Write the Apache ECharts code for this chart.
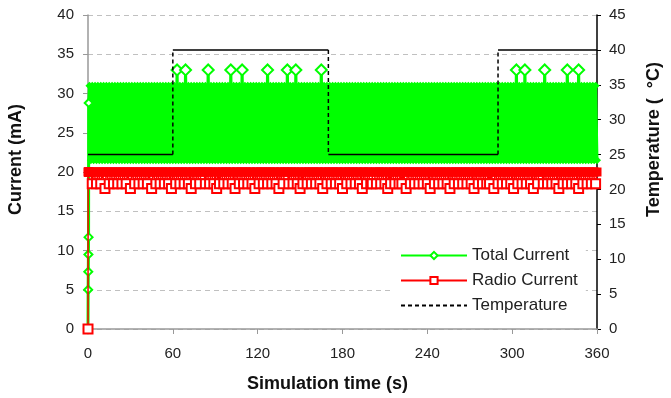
<!DOCTYPE html>
<html>
<head>
<meta charset="utf-8">
<script src="https://cdn.jsdelivr.net/npm/echarts@6/dist/echarts.min.js"></script>
<style>html,body{margin:0;padding:0;background:#fff}#c{width:671px;height:398px}</style>
</head>
<body>
<div id="c"></div>
<script>
// ---- data ----
var sampleStep = 1; // seconds between samples after start-up
// start-up burst at t≈0
var startTimes = [0, 0.1, 0.2, 0.3, 0.4, 0.5];
var startTotal = [0, 5, 7.3, 9.5, 11.7, 28.8];
var startRadio = [0, 20, 20, 20, 20, 20];
// total current (mA), t = 1..360 s
var totalCurrent = [
31,21.5,31,21.5,31,21.5,31,21.5,31,21.5,31,21.5,31,21.5,31,21.5,31,21.5,31,21.5,
31,21.5,31,21.5,31,21.5,31,21.5,31,21.5,31,21.5,31,21.5,31,21.5,31,21.5,31,21.5,
31,21.5,31,21.5,31,21.5,31,21.5,31,21.5,31,21.5,31,21.5,31,21.5,31,21.5,31,21.5,
31,21.5,33,21.5,31,21.5,31,21.5,33,21.5,31,21.5,31,21.5,31,21.5,31,21.5,31,21.5,
31,21.5,31,21.5,33,21.5,31,21.5,31,21.5,31,21.5,31,21.5,31,21.5,31,21.5,31,21.5,
33,21.5,31,21.5,31,21.5,31,21.5,33,21.5,31,21.5,31,21.5,31,21.5,31,21.5,31,21.5,
31,21.5,31,21.5,31,21.5,33,21.5,31,21.5,31,21.5,31,21.5,31,21.5,31,21.5,31,21.5,
33,21.5,31,21.5,31,21.5,33,21.5,31,21.5,31,21.5,31,21.5,31,21.5,31,21.5,31,21.5,
31,21.5,31,21.5,33,21.5,31,21.5,31,21.5,31,21.5,31,21.5,31,21.5,31,21.5,31,21.5,
31,21.5,31,21.5,31,21.5,31,21.5,31,21.5,31,21.5,31,21.5,31,21.5,31,21.5,31,21.5,
31,21.5,31,21.5,31,21.5,31,21.5,31,21.5,31,21.5,31,21.5,31,21.5,31,21.5,31,21.5,
31,21.5,31,21.5,31,21.5,31,21.5,31,21.5,31,21.5,31,21.5,31,21.5,31,21.5,31,21.5,
31,21.5,31,21.5,31,21.5,31,21.5,31,21.5,31,21.5,31,21.5,31,21.5,31,21.5,31,21.5,
31,21.5,31,21.5,31,21.5,31,21.5,31,21.5,31,21.5,31,21.5,31,21.5,31,21.5,31,21.5,
31,21.5,31,21.5,31,21.5,31,21.5,31,21.5,31,21.5,31,21.5,31,21.5,31,21.5,31,21.5,
31,21.5,33,21.5,31,21.5,31,21.5,33,21.5,31,21.5,31,21.5,31,21.5,31,21.5,31,21.5,
31,21.5,33,21.5,31,21.5,31,21.5,31,21.5,31,21.5,31,21.5,31,21.5,31,21.5,33,21.5,
31,21.5,31,21.5,31,21.5,33,21.5,31,21.5,31,21.5,31,21.5,31,21.5,31,21.5,31,21.5
];
// radio current (mA), t = 1..360 s
var radioCurrent = [
20,20,18.5,20,20,18.5,20,20,18.5,20,20,17.9,20,20,18.5,20,20,18.5,20,20,
18.5,20,20,18.5,20,20,18.5,20,20,17.9,20,20,18.5,20,20,18.5,20,20,18.5,20,
20,18.5,20,20,17.9,20,20,18.5,20,20,18.5,20,20,18.5,20,20,18.5,20,17.9,20,
20,18.5,20,20,18.5,20,20,18.5,20,20,18.5,20,17.9,20,20,18.5,20,20,18.5,20,
20,20,18.5,20,20,18.5,20,20,18.5,20,17.9,20,18.5,20,20,18.5,20,20,18.5,20,
20,18.5,20,17.9,20,20,18.5,20,20,18.5,20,20,18.5,20,20,18.5,20,17.9,20,20,
18.5,20,20,18.5,20,20,18.5,20,20,18.5,20,20,18.5,20,17.9,20,20,18.5,20,20,
20,18.5,20,20,18.5,20,20,18.5,20,17.9,20,18.5,20,20,18.5,20,20,18.5,20,20,
18.5,20,20,18.5,20,17.9,20,20,18.5,20,20,18.5,20,20,18.5,20,20,18.5,20,17.9,
20,20,18.5,20,20,18.5,20,20,18.5,20,20,18.5,20,17.9,20,20,18.5,20,20,18.5,
18.5,20,20,18.5,20,20,18.5,20,20,18.5,20,17.9,20,18.5,20,20,18.5,20,20,18.5,
20,18.5,20,20,17.9,20,20,18.5,20,20,18.5,20,20,18.5,20,20,18.5,20,20,18.5,
20,17.9,20,20,18.5,20,20,18.5,20,20,18.5,20,20,18.5,20,17.9,20,20,18.5,20,
20,18.5,20,20,18.5,20,20,18.5,20,20,18.5,20,17.9,20,20,18.5,20,20,18.5,20,
20,18.5,20,18.5,20,20,17.9,20,20,18.5,20,20,18.5,20,20,18.5,20,20,18.5,20,
17.9,20,20,18.5,20,20,18.5,20,20,18.5,20,20,18.5,20,17.9,20,20,18.5,20,20,
20,18.5,20,20,18.5,20,20,18.5,20,20,18.5,20,17.9,20,20,18.5,20,20,18.5,20,
20,18.5,20,20,18.5,20,17.9,20,20,18.5,20,20,18.5,20,20,18.5,20,20,18.5,20
];
// temperature (°C) step profile
var tempTimes  = [0, 60, 60, 170, 170, 290, 290, 360];
var tempValues = [25, 25, 40, 40, 25, 25, 40, 40];
// axis ticks
var xTicks = [0, 60, 120, 180, 240, 300, 360];
var yLeftTicks = [0, 5, 10, 15, 20, 25, 30, 35, 40];
var yRightTicks = [0, 5, 10, 15, 20, 25, 30, 35, 40, 45];

// ---- build ----
function series(startT, startV, vals) {
  var out = [];
  for (var i = 0; i < startT.length; i++) out.push([startT[i], startV[i]]);
  for (var j = 0; j < vals.length; j++) out.push([(j + 1) * sampleStep, vals[j]]);
  return out;
}
var totalData = series(startTimes, startTotal, totalCurrent).map(function (p, i) {
  if (i < startTimes.length) return { value: p, symbol: 'emptyDiamond' };
  if (p[1] > 32) return { value: p, symbol: 'emptyDiamond', symbolSize: 11 };
  return { value: p };
});
var radioData = series(startTimes, startRadio, radioCurrent).map(function (p, i) {
  return (p[1] < 20 || i === 0) ? { value: p, symbol: 'emptyRect' } : { value: p };
});
// horizontal (solid) and vertical (dashed) parts of the temperature step
var tempH = [], tempV = [];
for (var k = 0; k < tempTimes.length; k++) {
  var p = [tempTimes[k], tempValues[k]];
  if (k > 0 && tempTimes[k] === tempTimes[k - 1]) { tempV.push([tempTimes[k - 1], tempValues[k - 1]]); tempV.push(p); tempV.push([tempTimes[k], '-']); tempH.push([tempTimes[k], '-']); }
  tempH.push(p);
}

var font = 'Liberation Sans, Arial, sans-serif';
var chart = echarts.init(document.getElementById('c'), null, { renderer: 'canvas' });
chart.setOption({
  animation: false,
  backgroundColor: '#fff',
  grid: { left: 88, right: 74, top: 15, bottom: 69 },
  xAxis: {
    type: 'value', min: xTicks[0], max: xTicks[xTicks.length - 1], interval: xTicks[1] - xTicks[0],
    axisLine: { lineStyle: { color: '#999', width: 1.5 } },
    axisTick: { show: true, length: 5, lineStyle: { color: '#999' } },
    axisLabel: { color: '#222', fontSize: 15, fontFamily: font, margin: 17 },
    splitLine: { show: false }
  },
  yAxis: [{
    type: 'value', min: yLeftTicks[0], max: yLeftTicks[yLeftTicks.length - 1], interval: yLeftTicks[1] - yLeftTicks[0],
    axisLine: { show: true, lineStyle: { color: '#999', width: 1.5 } },
    axisTick: { show: true, length: 5, lineStyle: { color: '#999' } },
    axisLabel: { color: '#222', fontSize: 15, fontFamily: font, margin: 14 },
    splitLine: { show: true, lineStyle: { color: '#c0c0c0', type: [5, 4], width: 1 } }
  }, {
    type: 'value', position: 'right', min: yRightTicks[0], max: yRightTicks[yRightTicks.length - 1], interval: yRightTicks[1] - yRightTicks[0],
    axisLine: { show: true, lineStyle: { color: '#000', width: 1.5 } },
    axisTick: { show: true, length: 4, lineStyle: { color: '#000' } },
    axisLabel: { color: '#222', fontSize: 15, fontFamily: font, margin: 12 },
    splitLine: { show: false }
  }],
  legend: {
    orient: 'vertical', left: 392, top: 241, itemGap: 8, itemWidth: 66, itemHeight: 9,
    backgroundColor: '#fff', padding: [6, 8, 6, 8],
    textStyle: { color: '#222', fontSize: 17, fontFamily: font },
    data: ['Total Current', 'Radio Current', { name: 'Temperature', itemStyle: { color: 'rgba(0,0,0,0)', borderWidth: 0 } }]
  },
  series: [
    { name: 'total', type: 'line', data: totalData, symbol: 'diamond', symbolSize: 8, showAllSymbol: true,
      lineStyle: { color: '#00ff00', width: 3 }, itemStyle: { color: '#00ff00', borderWidth: 1.5 }, z: 2 },
    { name: 'radio', type: 'line', data: radioData, symbol: 'rect', symbolSize: 9, showAllSymbol: true,
      lineStyle: { color: '#ff0000', width: 1.5 }, itemStyle: { color: '#ff0000', borderWidth: 1.5 }, z: 3 },
    { name: 'tempSolid', type: 'line', yAxisIndex: 1, data: tempH, symbol: 'none', connectNulls: false,
      lineStyle: { color: '#000', width: 1.5 }, z: 4 },
    { name: 'Temperature', type: 'line', yAxisIndex: 1, data: tempV, symbol: 'none', connectNulls: false,
      lineStyle: { color: '#000', width: 1.5, type: [4, 3] }, itemStyle: { color: '#000' }, z: 4 },
    { name: 'Total Current', type: 'line', data: [], symbol: 'emptyDiamond', symbolSize: 8,
      lineStyle: { color: '#00ff00', width: 1.5 }, itemStyle: { color: '#00ff00', borderWidth: 1.5 } },
    { name: 'Radio Current', type: 'line', data: [], symbol: 'emptyRect', symbolSize: 8,
      lineStyle: { color: '#ff0000', width: 1.5 }, itemStyle: { color: '#ff0000', borderWidth: 1.5 } }
  ],
  graphic: [
    { type: 'text', left: 7, top: 104, rotation: Math.PI / 2, style: { text: 'Current (mA)', font: 'bold 18px ' + font, fill: '#111' } },
    { type: 'text', left: 645, top: 62, rotation: Math.PI / 2, style: { text: 'Temperature (  °C)', font: 'bold 18px ' + font, fill: '#111' } },
    { type: 'text', left: 247, top: 375, style: { text: 'Simulation time (s)', font: 'bold 18px ' + font, fill: '#111' } }
  ]
});
</script>
</body>
</html>
